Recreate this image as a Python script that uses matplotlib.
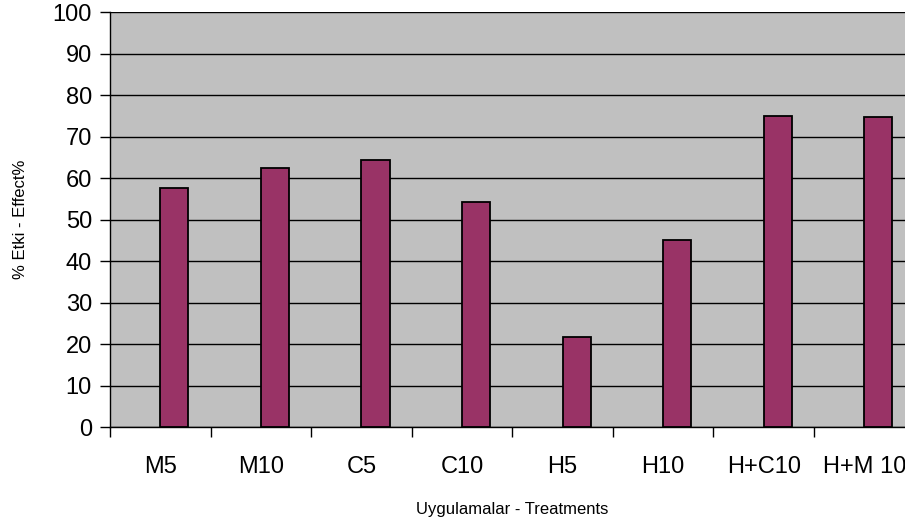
import numpy as np
import matplotlib.pyplot as plt

# Data
treatments = ['M5', 'M10', 'C5', 'C10', 'H5', 'H10', 'H+C10', 'H+M 10']
effect = [57.7, 62.5, 64.3, 54.3, 21.8, 45.0, 74.9, 74.7]
y_ticks = list(range(0, 101, 10))

plt.rcParams['font.family'] = ['Liberation Sans', 'DejaVu Sans']

fig = plt.figure(figsize=(9.05, 5.26), dpi=100)
# plot area runs past the right edge of the picture, as in the original
ax = fig.add_axes([0.1215, 0.188, 0.889, 0.789])
ax.set_facecolor('#C0C0C0')

x = np.arange(len(treatments))
ax.bar(x, effect, width=0.28, align='edge', color='#993366',
       edgecolor='black', linewidth=1.3, zorder=3)

ax.set_xlim(-0.5, len(treatments) - 0.5)
ax.set_ylim(0, 100)
ax.set_yticks(y_ticks)
ax.yaxis.grid(True, color='black', linewidth=1.0, zorder=1)
ax.set_axisbelow(True)

ax.set_xticks(x)
ax.set_xticklabels(treatments)
ax.set_xticks(np.arange(-0.5, len(treatments), 1), minor=True)
ax.tick_params(axis='x', which='major', length=0, labelsize=17, pad=21)
ax.tick_params(axis='x', which='minor', length=7, width=1, direction='out')
ax.tick_params(axis='y', length=7, width=1, labelsize=17, pad=6)

for s in ['top', 'right']:
    ax.spines[s].set_visible(False)
ax.spines['left'].set_linewidth(1.0)
ax.spines['bottom'].set_linewidth(1.0)

ax.set_xlabel('Uygulamalar - Treatments', fontsize=12, labelpad=17)
ax.set_ylabel('% Etki - Effect%', fontsize=12, labelpad=18)

fig.savefig('out.png', dpi=100)
